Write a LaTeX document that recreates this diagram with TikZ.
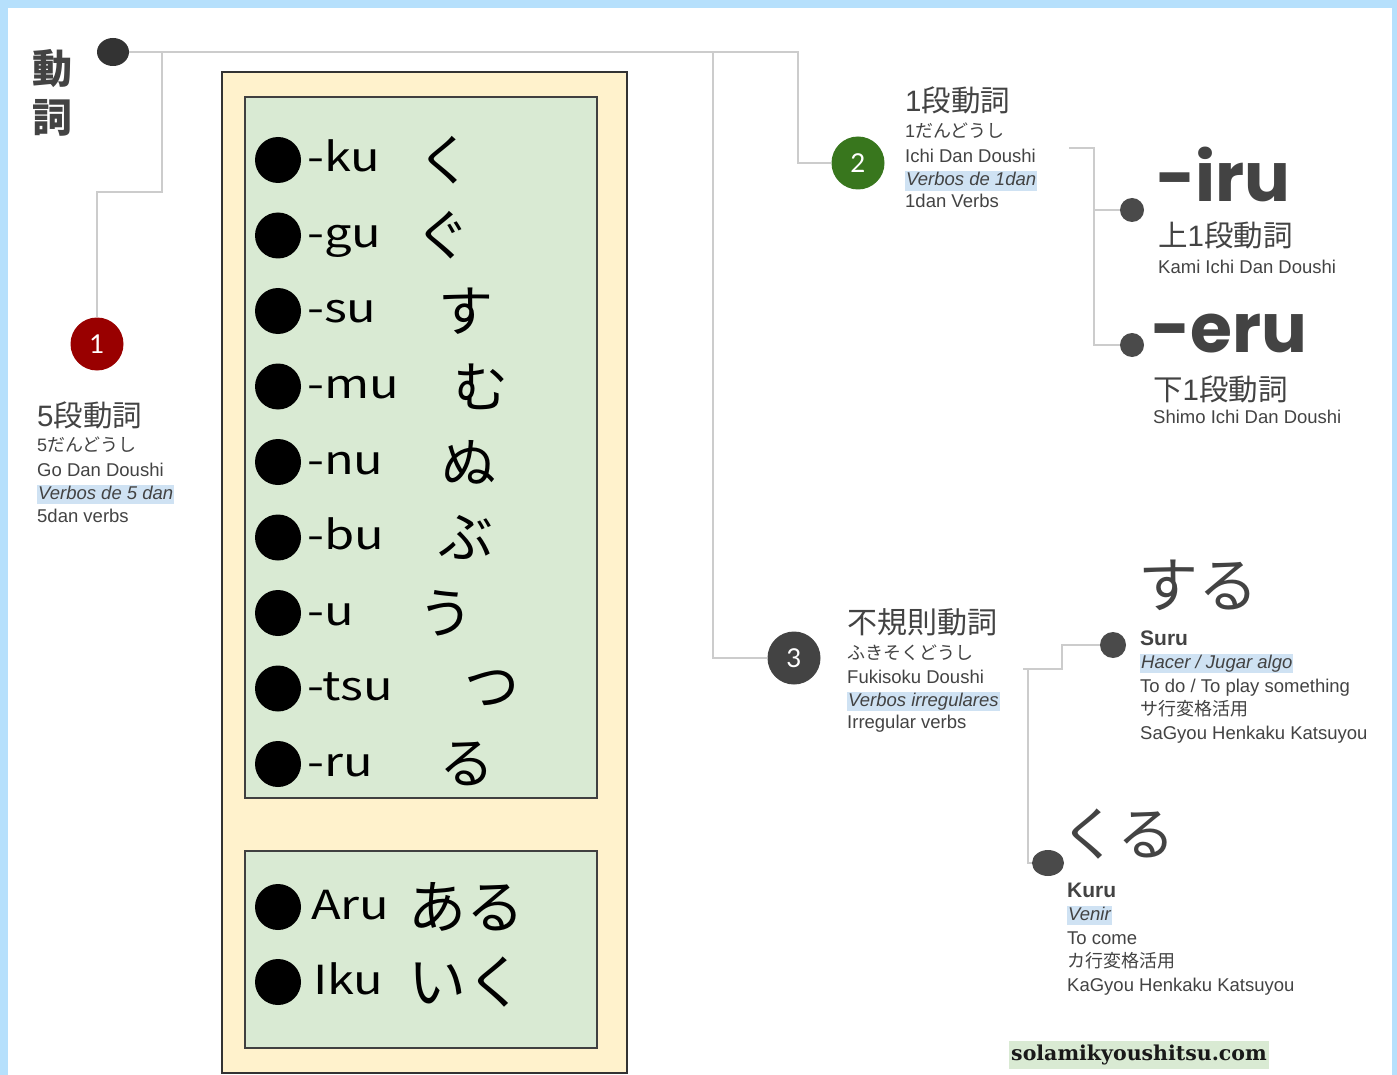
\documentclass[tikz,border=0pt]{standalone}
\usepackage{fontspec}
\setmainfont{Liberation Sans}
\newfontfamily\lat{Liberation Sans}
\newfontfamily\jp{Noto Sans CJK JP}
\newfontfamily\jpw{Noto Sans CJK JP}[FakeStretch=1.22]
\newfontfamily\pop{Poppins}
\newfontfamily\slab{DejaVu Serif}
\newfontfamily\numf{Lato}
\usetikzlibrary{shapes.geometric}
\definecolor{bluebg}{HTML}{B6E0FC}
\definecolor{tc}{HTML}{434343}
\definecolor{hlc}{HTML}{CFE2F3}
\definecolor{yel}{HTML}{FFF2CC}
\definecolor{grn}{HTML}{D9EAD3}
\definecolor{red1}{HTML}{990000}
\definecolor{grn2}{HTML}{38761D}
\definecolor{dk3}{HTML}{434343}
\definecolor{dotc}{HTML}{4A4A4A}
\definecolor{linec}{HTML}{CCCCCC}
\tikzset{
  conn/.style={draw=linec, line width=1.5pt},
  lbl/.style={anchor=base west, inner sep=0pt, text=tc, font=\fontsize{18.5}{20}\selectfont},
  jlbl/.style={lbl, font=\jp\fontsize{18}{20}\selectfont},
  hl/.style={lbl, fill=hlc, text height=13.5pt, text depth=4pt, inner xsep=1pt, inner ysep=1pt, font=\itshape\fontsize{18.5}{20}\selectfont},
  head/.style={lbl, font=\jp\fontsize{#1}{#1}\selectfont},
  numc/.style={circle, minimum size=53pt, inner sep=0pt, text=white, font=\numf\fontsize{26}{26}\selectfont},
  dotn/.style={circle, fill=dotc, minimum size=24pt, inner sep=0pt},
  bul/.style={circle, fill=black, minimum size=46pt, inner sep=0pt},
  hand/.style={anchor=base west, inner sep=0pt, font=\jpw\fontsize{40}{40}\selectfont},
  kana/.style={inner sep=0pt, font=\jp\fontsize{55}{55}\selectfont},
  big/.style={lbl, text depth=0pt, font=\pop\bfseries\fontsize{68}{68}\selectfont},
  title/.style={inner sep=0pt, text=tc, font=\jp\bfseries\fontsize{40}{40}\selectfont},
  bname/.style={lbl, font=\bfseries\fontsize{21}{22}\selectfont},
}
\begin{document}
\begin{tikzpicture}[x=1pt,y=-1pt]
\useasboundingbox (0,0) rectangle (1397,1075);
\fill[bluebg] (0,0) rectangle (1397,1075);
\fill[white] (8,8) rectangle (1392,1075);
% boxes
\filldraw[fill=yel, draw=black!80, line width=1.2pt] (222,72) rectangle (627,1073);
\filldraw[fill=grn, draw=black!75, line width=1.2pt] (245,97) rectangle (597,798);
\filldraw[fill=grn, draw=black!75, line width=1.2pt] (245,851) rectangle (597,1048);
% title
\node[title] (t1) at (52,69) {動};
\node[title] (t2) at (52,118) {詞};
% root dot
\node[ellipse, fill=black!80, minimum width=32pt, minimum height=28pt, inner sep=0pt] (topdot) at (113,52) {};
% numbered circles
\node[numc, fill=red1] (c1) at (97,344) {1};
\node[numc, fill=grn2] (c2) at (858,163) {2};
\node[numc, fill=dk3] (c3) at (794,658) {3};
% connectors from root
\coordinate (j1) at (162,52);
\coordinate (j3) at (713,52);
\draw[conn] (topdot) -- (798,52) |- (c2);
\draw[conn] (j1) -- (162,192) -- (97,192) -- (c1);
\draw[conn] (j3) |- (c3);
% block 1
\node[head=29.5] (b1a) at (37,426) {{\lat 5}段動詞};
\node[jlbl] (b1b) at (37,451) {{\lat 5}だんどうし};
\node[lbl] (b1c) at (37,476) {Go Dan Doushi};
\node[hl] (b1d) at (37,499) {Verbos de 5 dan};
\node[lbl] (b1e) at (37,522) {5dan verbs};
% block 2
\node[head=29.5] (b2a) at (905,112) {{\lat 1}段動詞};
\node[jlbl] (b2b) at (905,138) {{\lat 1}だんどうし};
\node[lbl] (b2c) at (905,163) {Ichi Dan Doushi};
\node[hl] (b2d) at (905,186) {Verbos de 1dan};
\node[lbl] (b2e) at (905,208) {1dan Verbs};
% block 3
\node[head=30] (b3a) at (847,633) {不規則動詞};
\node[jlbl] (b3b) at (847,659) {ふきそくどうし};
\node[lbl] (b3c) at (847,683) {Fukisoku Doushi};
\node[hl] (b3d) at (847,706) {Verbos irregulares};
\node[lbl] (b3e) at (847,728) {Irregular verbs};
% iru / eru
\node[dotn] (irudot) at (1132,210) {};
\node[dotn] (erudot) at (1132,345) {};
\coordinate (s2) at (1069,148);
\draw[conn] (s2) -| (1094,210) -- (irudot);
\draw[conn] (1094,210) |- (erudot);
\node[big] (iru) at (1156,202) {-iru};
\node[head=29.5] (irua) at (1158,247) {上{\lat 1}段動詞};
\node[lbl] (irub) at (1158,273) {Kami Ichi Dan Doushi};
\node[big] (eru) at (1151,352) {-eru};
\node[head=29.5] (erua) at (1153,400) {下{\lat 1}段動詞};
\node[lbl] (erub) at (1153,423) {Shimo Ichi Dan Doushi};
% suru / kuru
\node[dotn, minimum size=26pt] (surudot) at (1113,645) {};
\node[ellipse, fill=dotc, minimum width=32pt, minimum height=26pt, inner sep=0pt] (kurudot) at (1048,863) {};
\coordinate (s3) at (1023,669);
\draw[conn] (s3) -- (1062,669) |- (surudot);
\draw[conn] (1028,669) |- (kurudot);
\node[head=60] (suru) at (1138,607) {する};
\node[bname] (surua) at (1140,645) {Suru};
\node[hl] (surub) at (1140,668) {Hacer / Jugar algo};
\node[lbl] (suruc) at (1140,692) {To do / To play something};
\node[jlbl] (surud) at (1140,715) {サ行変格活用};
\node[lbl] (surue) at (1140,739) {SaGyou Henkaku Katsuyou};
\node[head=58] (kuru) at (1060,855) {くる};
\node[bname] (kurua) at (1067,897) {Kuru};
\node[hl] (kurub) at (1067,920) {Venir};
\node[lbl] (kuruc) at (1067,944) {To come};
\node[jlbl] (kurud) at (1067,967) {カ行変格活用};
\node[lbl] (kurue) at (1067,991) {KaGyou Henkaku Katsuyou};
% list box 1
\foreach \i/\s/\k/\kx in {1/-ku/く/445, 2/-gu/ぐ/443, 3/-su/す/466, 4/-mu/む/481, 5/-nu/ぬ/469, 6/-bu/ぶ/466, 7/-u/う/446, 8/-tsu/つ/492, 9/-ru/る/467}{
  \pgfmathsetmacro{\yy}{160+75.5*(\i-1)}
  \node[bul] (b\i) at (278,\yy) {};
  \node[hand] (h\i) at (307,\yy+12) {\s};
  \node[kana] (k\i) at (\kx,\yy) {\k};
}
% list box 2
\node[bul] (ba) at (278,907) {};
\node[hand] (ha) at (311,919) {Aru};
\node[kana, font=\jp\fontsize{58}{58}\selectfont] (ka) at (466,907) {ある};
\node[bul] (bi) at (278,982) {};
\node[hand] (hi) at (313,994) {Iku};
\node[kana, font=\jp\fontsize{58}{58}\selectfont] (ki) at (466,982) {いく};
% url
\node[fill=grn, text=black!90, inner xsep=2pt, minimum height=28pt, font=\slab\bfseries\fontsize{20.5}{20}\selectfont] (url) at (1139,1055) {solamikyoushitsu.com};
\end{tikzpicture}
\end{document}
